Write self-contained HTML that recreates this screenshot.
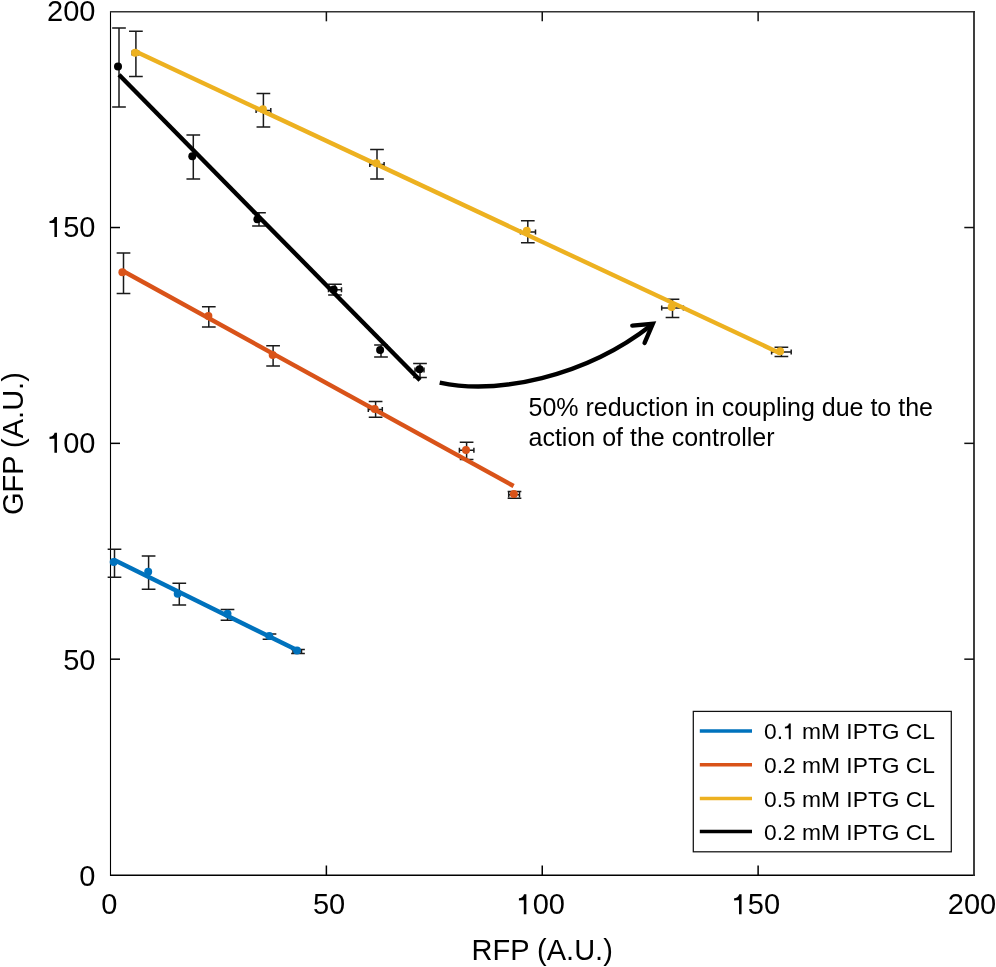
<!DOCTYPE html>
<html><head><meta charset="utf-8"><style>
html,body{margin:0;padding:0;background:#fff;}
svg{display:block;will-change:transform;}
text{font-family:"Liberation Sans",sans-serif;fill:#000;}
</style></head><body>
<svg width="996" height="967" viewBox="0 0 996 967">
<rect width="996" height="967" fill="#fff"/>
<g fill="none" stroke-linecap="butt">
<line x1="110.5" y1="11" x2="110.5" y2="876" stroke="#000" stroke-width="1.1"/>
<line x1="110" y1="875.2" x2="975" y2="875.2" stroke="#000" stroke-width="1.4"/>
<line x1="110" y1="11.8" x2="975" y2="11.8" stroke="#333" stroke-width="1.5"/>
<line x1="974" y1="11" x2="974" y2="876" stroke="#2a2a2a" stroke-width="1.8"/>
<line x1="110" y1="659.17" x2="120" y2="659.17" stroke="#000" stroke-width="1.5"/>
<line x1="964.3" y1="659.17" x2="974" y2="659.17" stroke="#111" stroke-width="1.5"/>
<line x1="326.38" y1="865.5" x2="326.38" y2="875" stroke="#000" stroke-width="1.5"/>
<line x1="326.38" y1="12" x2="326.38" y2="21.3" stroke="#111" stroke-width="1.5"/>
<line x1="110" y1="443.35" x2="120" y2="443.35" stroke="#000" stroke-width="1.5"/>
<line x1="964.3" y1="443.35" x2="974" y2="443.35" stroke="#111" stroke-width="1.5"/>
<line x1="542.25" y1="865.5" x2="542.25" y2="875" stroke="#000" stroke-width="1.5"/>
<line x1="542.25" y1="12" x2="542.25" y2="21.3" stroke="#111" stroke-width="1.5"/>
<line x1="110" y1="227.53" x2="120" y2="227.53" stroke="#000" stroke-width="1.5"/>
<line x1="964.3" y1="227.53" x2="974" y2="227.53" stroke="#111" stroke-width="1.5"/>
<line x1="758.12" y1="865.5" x2="758.12" y2="875" stroke="#000" stroke-width="1.5"/>
<line x1="758.12" y1="12" x2="758.12" y2="21.3" stroke="#111" stroke-width="1.5"/>
</g>
<g font-size="29">
<text x="79.372" y="886.2" font-size="29" >0</text>
<text x="63.243" y="670" font-size="29" >50</text>
<text x="47.115" y="452.8" font-size="29" > 00</text><path d="M515 0V985C420 985 300 975 170 975V1125C350 1140 480 1210 530 1409H696V0Z" transform="translate(47.115 452.8) scale(0.014160 -0.014160)"/>
<text x="47.115" y="236.9" font-size="29" > 50</text><path d="M515 0V985C420 985 300 975 170 975V1125C350 1140 480 1210 530 1409H696V0Z" transform="translate(47.115 236.9) scale(0.014160 -0.014160)"/>
<text x="47.115" y="21.1" font-size="29" >200</text>
<text x="101.336" y="914.2" font-size="29" >0</text>
<text x="312.972" y="914.2" font-size="29" >50</text>
<text x="516.507" y="914.2" font-size="29" > 00</text><path d="M515 0V985C420 985 300 975 170 975V1125C350 1140 480 1210 530 1409H696V0Z" transform="translate(516.507 914.2) scale(0.014160 -0.014160)"/>
<text x="731.707" y="914.2" font-size="29" > 50</text><path d="M515 0V985C420 985 300 975 170 975V1125C350 1140 480 1210 530 1409H696V0Z" transform="translate(731.707 914.2) scale(0.014160 -0.014160)"/>
<text x="947.807" y="914.2" font-size="29" >200</text>
<text x="542.2" y="959.6" text-anchor="middle">RFP (A.U.)</text>
<text x="0" y="0" text-anchor="middle" transform="translate(22.5,443.6) rotate(-90)">GFP (A.U.)</text>
</g>
<path d="M114.5 549.2V577.3M107.65 549.2H121.35M107.65 577.3H121.35M148.6 556.1V589.2M141.75 556.1H155.45M141.75 589.2H155.45M179.3 583.3V604.9M172.45 583.3H186.15M172.45 604.9H186.15M227.5 609.5V620.2M220.65 609.5H234.35M220.65 620.2H234.35M269.5 633.9V639.3M262.65 633.9H276.35M262.65 639.3H276.35M298 649.4V653.4M291.15 649.4H304.85M291.15 653.4H304.85M293 651.4H301.5M293 648.9V653.9M301.5 648.9V653.9" stroke="#1a1a1a" stroke-width="1.5" fill="none"/>
<circle cx="113.7" cy="562.1" r="4.0" fill="#0072BD"/>
<circle cx="148.2" cy="571.8" r="4.0" fill="#0072BD"/>
<circle cx="177.7" cy="593.7" r="4.0" fill="#0072BD"/>
<circle cx="227.5" cy="613.8" r="4.0" fill="#0072BD"/>
<circle cx="269.3" cy="636.1" r="4.0" fill="#0072BD"/>
<circle cx="297" cy="650.6" r="4.0" fill="#0072BD"/>
<path d="M123.5 252.9V293.5M116.65 252.9H130.35M116.65 293.5H130.35M208.8 306.7V326.9M201.95 306.7H215.65M201.95 326.9H215.65M273.1 345.8V365.9M266.25 345.8H279.95M266.25 365.9H279.95M375.6 401.5V417.3M368.75 401.5H382.45M368.75 417.3H382.45M368.3 409.4H382.3M368.3 406.9V411.9M382.3 406.9V411.9M466.6 442.2V459.4M459.75 442.2H473.45M459.75 459.4H473.45M459.4 450.3H473.9M459.4 447.8V452.8M473.9 447.8V452.8M514.5 491.4V498.2M507.65 491.4H521.35M507.65 498.2H521.35M508.7 494.8H519.5M508.7 492.3V497.3M519.5 492.3V497.3" stroke="#1a1a1a" stroke-width="1.5" fill="none"/>
<circle cx="122.4" cy="272.3" r="4.0" fill="#D95319"/>
<circle cx="208.4" cy="315.9" r="4.0" fill="#D95319"/>
<circle cx="272.7" cy="354.9" r="4.0" fill="#D95319"/>
<circle cx="374.7" cy="409" r="4.0" fill="#D95319"/>
<circle cx="466" cy="450.1" r="4.0" fill="#D95319"/>
<circle cx="513.9" cy="494.1" r="4.0" fill="#D95319"/>
<path d="M135.9 31.3V76.5M129.05 31.3H142.75M129.05 76.5H142.75M132.2 53H138.7M132.2 50.5V55.5M138.7 50.5V55.5M263.4 93.6V127M256.55 93.6H270.25M256.55 127H270.25M256.1 110.4H270.8M256.1 107.9V112.9M270.8 107.9V112.9M377 149.6V179M370.15 149.6H383.85M370.15 179H383.85M369.8 164.4H384.1M369.8 161.9V166.9M384.1 161.9V166.9M527.8 220.8V242.8M520.95 220.8H534.65M520.95 242.8H534.65M520.5 232H535.5M520.5 229.5V234.5M535.5 229.5V234.5M672.5 299.2V317.5M665.65 299.2H679.35M665.65 317.5H679.35M661.7 308H683.4M661.7 305.5V310.5M683.4 305.5V310.5M781.4 347.3V356.4M774.55 347.3H788.25M774.55 356.4H788.25M771.6 352H791.2M771.6 349.5V354.5M791.2 349.5V354.5" stroke="#1a1a1a" stroke-width="1.5" fill="none"/>
<circle cx="135.1" cy="52.8" r="4.0" fill="#EDB120"/>
<circle cx="262.9" cy="109.3" r="4.0" fill="#EDB120"/>
<circle cx="376.4" cy="163.2" r="4.0" fill="#EDB120"/>
<circle cx="526.8" cy="230.8" r="4.0" fill="#EDB120"/>
<circle cx="671.6" cy="307" r="4.0" fill="#EDB120"/>
<circle cx="780.1" cy="351.3" r="4.0" fill="#EDB120"/>
<path d="M119 27.9V107M112.15 27.9H125.85M112.15 107H125.85M193.3 135.1V178.9M186.45 135.1H200.15M186.45 178.9H200.15M259 212.8V226.1M252.15 212.8H265.85M252.15 226.1H265.85M335 284.2V294.9M328.15 284.2H341.85M328.15 294.9H341.85M328.5 289.8H341.5M328.5 287.3V292.3M341.5 287.3V292.3M381 345.1V356.9M374.15 345.1H387.85M374.15 356.9H387.85M420 363.5V377.4M413.15 363.5H426.85M413.15 377.4H426.85M415 370H424M415 367.5V372.5M424 367.5V372.5" stroke="#1a1a1a" stroke-width="1.5" fill="none"/>
<circle cx="118" cy="66.5" r="4.0" fill="#000000"/>
<circle cx="192.3" cy="156.2" r="4.0" fill="#000000"/>
<circle cx="257.4" cy="219.3" r="4.0" fill="#000000"/>
<circle cx="333.7" cy="289.5" r="4.0" fill="#000000"/>
<circle cx="380.1" cy="350" r="4.0" fill="#000000"/>
<circle cx="419.6" cy="369.3" r="4.0" fill="#000000"/>
<line x1="113.8" y1="559.8" x2="298.3" y2="650.8" stroke="#0072BD" stroke-width="4.4" stroke-linecap="butt"/>
<line x1="122.5" y1="270.8" x2="513.6" y2="486" stroke="#D95319" stroke-width="4.4" stroke-linecap="butt"/>
<line x1="135.1" y1="51.3" x2="780.5" y2="353.4" stroke="#EDB120" stroke-width="4.4" stroke-linecap="butt"/>
<line x1="119" y1="74.7" x2="420" y2="380.3" stroke="#000000" stroke-width="4.4" stroke-linecap="butt"/>
<path d="M439.7 382.6C496.6 394.9 584.6 377.4 651.5 325" fill="none" stroke="#000" stroke-width="4.4" stroke-linecap="butt"/>
<path d="M632.3 325.6L652.8 323.8L644.6 342.9" fill="none" stroke="#000" stroke-width="4.4" stroke-linecap="round" stroke-linejoin="miter" stroke-miterlimit="10"/>
<g font-size="25"><text x="528.5" y="416">50% reduction in coupling due to the</text><text x="528.5" y="446">action of the controller</text></g>
<rect x="693.3" y="711.4" width="258" height="140.4" fill="#fff" stroke="#111" stroke-width="1.25"/>
<line x1="699.8" y1="731.0" x2="752" y2="731.0" stroke="#0072BD" stroke-width="3.5"/>
<text x="764.000" y="739.3" font-size="22.8" >0.  mM IPTG CL</text><path d="M515 0V985C420 985 300 975 170 975V1125C350 1140 480 1210 530 1409H696V0Z" transform="translate(783.015 739.3) scale(0.011133 -0.011133)"/>
<line x1="699.8" y1="764.7" x2="752" y2="764.7" stroke="#D95319" stroke-width="3.5"/>
<text x="764.000" y="773" font-size="22.8" >0.2 mM IPTG CL</text>
<line x1="699.8" y1="798.4" x2="752" y2="798.4" stroke="#EDB120" stroke-width="3.5"/>
<text x="764.000" y="806.7" font-size="22.8" >0.5 mM IPTG CL</text>
<line x1="699.8" y1="831.6" x2="752" y2="831.6" stroke="#000000" stroke-width="3.5"/>
<text x="764.000" y="839.9" font-size="22.8" >0.2 mM IPTG CL</text>
</svg></body></html>
